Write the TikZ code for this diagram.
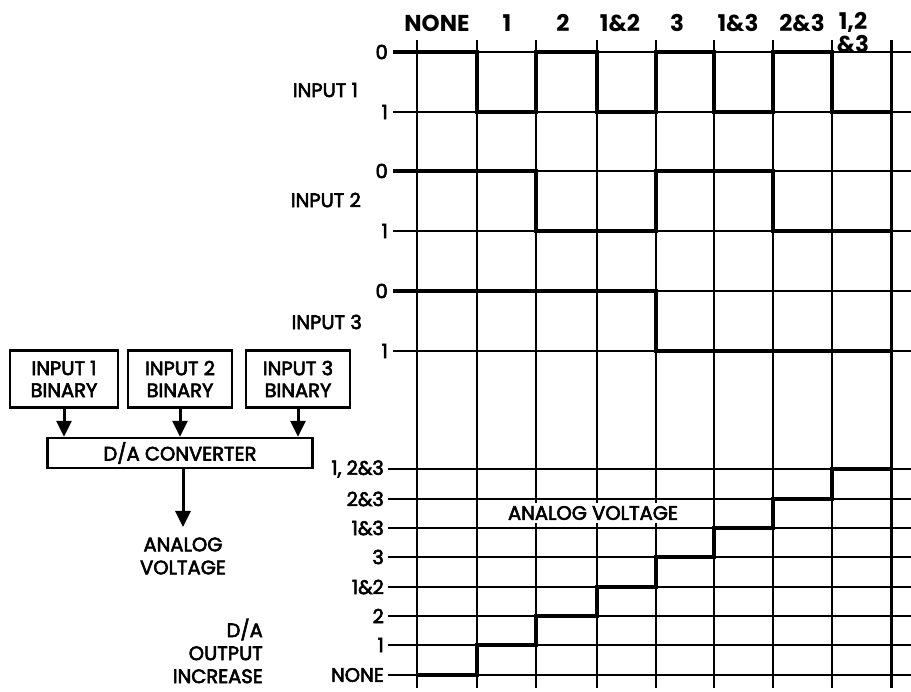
\documentclass[tikz,border=0pt]{standalone}
\usepackage{fontspec}
\setmainfont{Poppins}
\newfontfamily\medfont{Poppins}[FakeBold=3]
\usetikzlibrary{arrows.meta,positioning}

\tikzset{
  gridline/.style={line width=1.8pt},
  trace/.style={line width=3.8pt, line join=miter},
  lbl/.style={font=\medfont\fontsize{19.5}{23}\selectfont, inner sep=0pt},
  hdr/.style={font=\fontsize{23}{23}\selectfont\bfseries, inner sep=0pt},
  blockbox/.style={draw, line width=2.4pt, align=center, inner sep=0pt,
    font=\medfont\fontsize{19.5}{22}\selectfont},
  flow/.style={line width=3pt, -{Triangle[length=16pt,width=15pt]}},
}

\begin{document}
\begin{tikzpicture}[x=1pt,y=-1pt]
    \useasboundingbox (0,0) rectangle (911,692);

    % Grid: vertical lines
    \foreach \x in {417,477,536,597,656,714,773,832}
        \draw[gridline] (\x,40) -- (\x,688);
    \draw[gridline, line width=3pt] (891,40) -- (891,688);

    % Grid: digital rows and analog rows
    \foreach \y in {52,112,171,231,291,351}
        \draw[gridline] (393,\y) -- (911,\y);
    \foreach \y in {469,499,528,557,587,616,645,675}
        \draw[gridline] (388,\y) -- (911,\y);

    % Input 1 waveform
    \draw[trace] (393,52) -- (477,52) -- (477,112) -- (536,112) -- (536,52)
        -- (597,52) -- (597,112) -- (656,112) -- (656,52) -- (714,52)
        -- (714,112) -- (773,112) -- (773,52) -- (832,52) -- (832,112) -- (891,112);

    % Input 2 waveform
    \draw[trace] (393,171) -- (536,171) -- (536,231) -- (656,231) -- (656,171)
        -- (773,171) -- (773,231) -- (891,231);

    % Input 3 waveform
    \draw[trace] (393,291) -- (656,291) -- (656,351) -- (891,351);

    % Analog staircase
    \draw[trace] (417,675) -- (477,675) -- (477,645) -- (536,645) -- (536,616)
        -- (597,616) -- (597,587) -- (656,587) -- (656,557) -- (714,557)
        -- (714,528) -- (773,528) -- (773,499) -- (832,499) -- (832,469) -- (891,469);
    \node[lbl, fill=white, inner sep=3pt] (analog) at (593,513) {ANALOG VOLTAGE};

    % Column headers
    \node[hdr] (hnone) at (437,23) {NONE};
    \node[hdr] (hone) at (507,23) {1};
    \node[hdr] (htwo) at (563,23) {2};
    \node[hdr] (honetwo) at (620,23) {1\&2};
    \node[hdr] (hthree) at (677,23) {3};
    \node[hdr] (honethree) at (738,23) {1\&3};
    \node[hdr] (htwothree) at (802,23) {2\&3};
    \node[hdr, align=center] (hall) at (853,33) {1,2\\\&3};

    % Row labels of the inputs
    \node[lbl, anchor=east] (in1) at (358,90) {INPUT 1};
    \node[lbl, anchor=east] (in2) at (361,200) {INPUT 2};
    \node[lbl, anchor=east] (in3) at (362,322) {INPUT 3};
    \foreach \y/\v in {52/0,112/1,171/0,231/1,291/0,351/1}
        \node[lbl, anchor=east] at (388,\y) {\v};

    % Row labels of the analog levels
    \foreach \y/\v in {469/{1, 2\&3},499/2\&3,528/1\&3,557/3,587/1\&2,616/2,645/1,675/NONE}
        \node[lbl, anchor=east] at (384,\y) {\v};
    \node[lbl, align=right, anchor=east] (dalabel) at (263,651) {D/A\\OUTPUT\\INCREASE};

    % Block diagram
    \node[blockbox, minimum width=108pt, minimum height=57pt] (bin1) at (64,379) {INPUT 1\\BINARY};
    \node[blockbox, minimum width=104pt, minimum height=57pt] (bin2) at (180,379) {INPUT 2\\BINARY};
    \node[blockbox, minimum width=104pt, minimum height=57pt] (bin3) at (298,379) {INPUT 3\\BINARY};
    \node[blockbox, minimum width=265pt, minimum height=30pt] (conv) at (180,453) {D/A CONVERTER};
    \node[lbl, align=center] (aout) at (183,556) {ANALOG\\VOLTAGE};
    \coordinate (outtip) at (183,527);

    \draw[flow] (bin1) -- (bin1 |- conv.north);
    \draw[flow] (bin2) -- (bin2 |- conv.north);
    \draw[flow] (bin3) -- (bin3 |- conv.north);
    \draw[flow] (conv.south -| outtip) -- (outtip);
\end{tikzpicture}
\end{document}
